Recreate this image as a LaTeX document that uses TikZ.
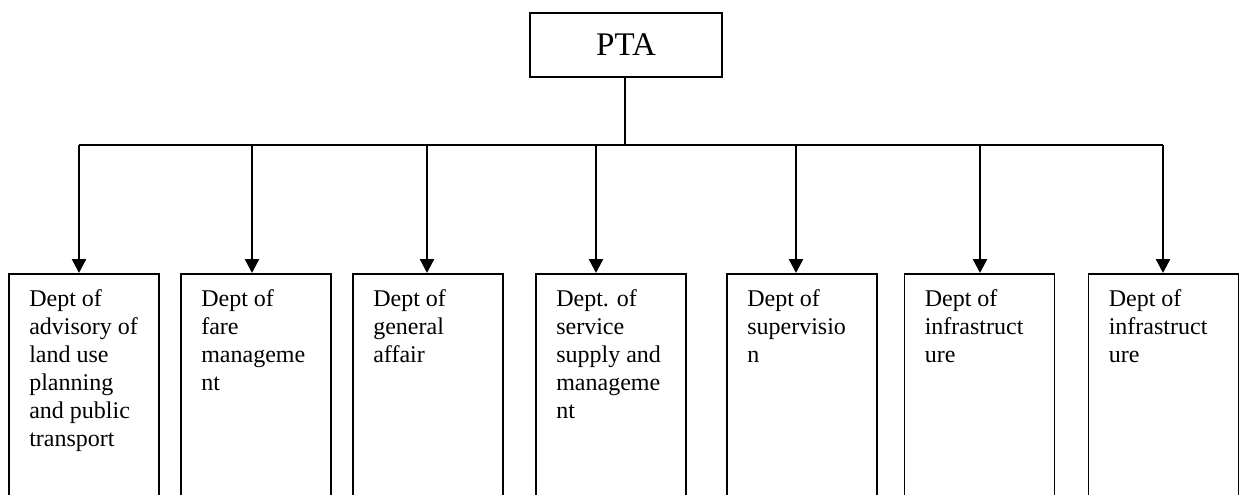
\documentclass[tikz,border=0pt]{standalone}
\usepackage{fontspec}
\setmainfont{Liberation Serif}
\usetikzlibrary{arrows.meta}
\begin{document}
\begin{tikzpicture}[x=1pt,y=-1pt,
  dept/.style={draw,line width=1.8pt,minimum width=150pt,minimum height=260pt,anchor=north,inner sep=0pt},
  label/.style={anchor=north west,inner sep=0pt,align=left,font=\fontsize{24}{28}\selectfont},
  top/.style={draw,line width=1.8pt,minimum width=192pt,minimum height=64pt,inner sep=0pt,font=\fontsize{33}{38}\selectfont},
  bus/.style={line width=1.8pt},
  arr/.style={line width=2.4pt,-{Triangle[width=14pt,length=14pt]}}]
\useasboundingbox (0,0) rectangle (1239,495);
\clip (0,0) rectangle (1239,495);
\node[top] (pta) at (626,45) {PTA};
\coordinate (j) at (625,145);
\draw[bus] (pta.south -| j) -- (j);
\node[dept] (d1) at (84,273) {};
\node[dept] (d2) at (256,273) {};
\node[dept] (d3) at (428,273) {};
\node[dept] (d4) at (611,273) {};
\node[dept] (d5) at (802,273) {};
\node[dept] (d6) at (979.5,273) {};
\node[dept] (d7) at (1163.5,273) {};
\coordinate (b1) at (79,145);
\coordinate (b2) at (252,145);
\coordinate (b3) at (427,145);
\coordinate (b4) at (596,145);
\coordinate (b5) at (796,145);
\coordinate (b6) at (980,145);
\coordinate (b7) at (1163,145);
\draw[bus] (b1) -- (b7);
\draw[arr] (b1) -- (b1 |- d1.north);
\draw[arr] (b2) -- (b2 |- d2.north);
\draw[arr] (b3) -- (b3 |- d3.north);
\draw[arr] (b4) -- (b4 |- d4.north);
\draw[arr] (b5) -- (b5 |- d5.north);
\draw[arr] (b6) -- (b6 |- d6.north);
\draw[arr] (b7) -- (b7 |- d7.north);
\node[label] (t1) at ([xshift=21pt,yshift=-16pt]d1.north west) {Dept of\\advisory of\\land use\\planning\\and public\\transport};
\node[label] (t2) at ([xshift=21pt,yshift=-16pt]d2.north west) {Dept of\\fare\\manageme\\nt};
\node[label] (t3) at ([xshift=21pt,yshift=-16pt]d3.north west) {Dept of\\general\\affair};
\node[label] (t4) at ([xshift=21pt,yshift=-16pt]d4.north west) {Dept. of\\service\\supply and\\manageme\\nt};
\node[label] (t5) at ([xshift=21pt,yshift=-16pt]d5.north west) {Dept of\\supervisio\\n};
\node[label] (t6) at ([xshift=21pt,yshift=-16pt]d6.north west) {Dept of\\infrastruct\\ure};
\node[label] (t7) at ([xshift=21pt,yshift=-16pt]d7.north west) {Dept of\\infrastruct\\ure};
\end{tikzpicture}
\end{document}
